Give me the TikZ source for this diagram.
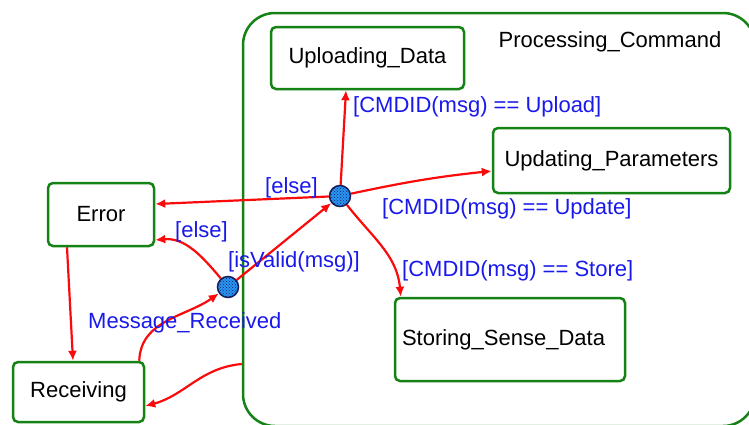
\documentclass[tikz,border=0pt]{standalone}
\usepackage{fontspec}
\setmainfont{Liberation Sans}
\usetikzlibrary{arrows.meta,patterns}
\definecolor{stgreen}{RGB}{20,130,20}
\definecolor{trred}{RGB}{250,10,10}
\definecolor{grdblue}{RGB}{25,25,235}
\definecolor{jfill}{RGB}{40,150,245}
\definecolor{jedge}{RGB}{20,30,90}
\begin{document}
\begin{tikzpicture}[x=1pt,y=-1pt,
  font=\fontsize{22}{26}\selectfont,
  stbox/.style={draw=stgreen, line width=2.5pt, rounded corners=5pt, fill=white, inner sep=0pt},
  tr/.style={draw=trred, line width=2.2pt, -{Latex[length=10pt,width=9pt]}},
  lbl/.style={text=grdblue, inner sep=0pt, anchor=west},
  junc/.style={circle, minimum size=21pt, inner sep=0pt, draw=jedge, line width=1.5pt,
    fill=jfill, postaction={pattern=crosshatch dots, pattern color=jedge}}
]
\useasboundingbox (0,0) rectangle (749,424);
\clip (0,0) rectangle (749,424);

% composite state
\node[draw=stgreen, line width=2.5pt, rounded corners=32pt, minimum width=512pt,
      minimum height=413pt, inner sep=0pt] (pc) at (499,219.5) {};
\node (pct) at (610,42) {Processing\_Command};

% states
\node[stbox, minimum width=193pt, minimum height=62pt] (up) at (367.5,58) {Uploading\_Data};
\node[stbox, minimum width=237pt, minimum height=65pt] (upd) at (611.5,160.5) {Updating\_Parameters};
\node[stbox, minimum height=83pt, text width=216pt, inner xsep=7pt, align=left] (sto) at (510,339.5) {Storing\_Sense\_Data};
\node[stbox, minimum width=106pt, minimum height=63pt] (err) at (101,214.5) {Error};
\node[stbox, minimum width=131pt, minimum height=60pt] (rcv) at (78.5,392) {Receiving};

% choice points
\node[junc] (j1) at (340,196) {};
\node[junc] (j2) at (228,287) {};

\coordinate (pcx) at (pc.west |- 0,364);

% transitions
\draw[tr] (j1) -- ([xshift=-21.5pt]up.south);
\draw[tr] (j1) to[out=12,in=186] ([yshift=-10.5pt]upd.west);
\draw[tr] (j1) to[out=-52,in=95] ([xshift=7pt]sto.north west);
\draw[tr] (j1) -- ([yshift=10.5pt]err.east);
\draw[tr] (j2) -- (j1);
\draw[tr] (j2) to[out=130,in=5] ([yshift=-25.5pt]err.east);
\draw[tr] ([xshift=-6pt]rcv.north east) to[out=88,in=215] (j2);
\draw[tr] ([xshift=-34pt]err.south) -- ([xshift=-5.5pt]rcv.north);
\draw[tr] (pcx) to[out=185,in=15] ([yshift=-14pt]rcv.east);

% guards and events
\node[lbl] (gup) at (353,107) {[CMDID(msg) == Upload]};
\node[lbl] (gupd) at (382,209) {[CMDID(msg) == Update]};
\node[lbl] (gsto) at (402,271) {[CMDID(msg) == Store]};
\node[lbl] (gel1) at (265,188) {[else]};
\node[lbl] (gel2) at (175,232) {[else]};
\node[lbl] (gval) at (228,262) {[isValid(msg)]};
\node[lbl] (gmsg) at (88,323) {Message\_Received};
\end{tikzpicture}
\end{document}
